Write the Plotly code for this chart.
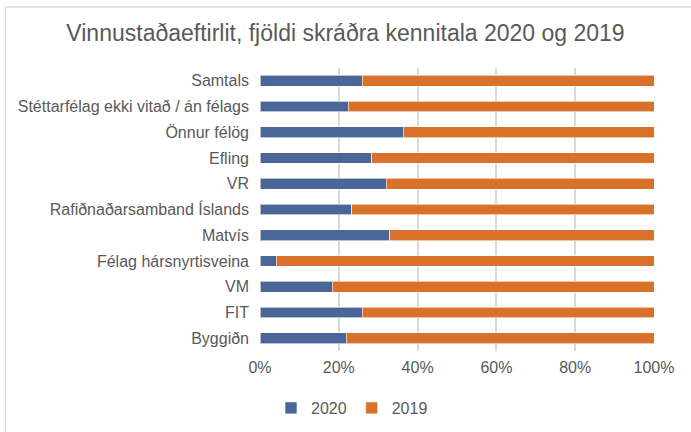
import plotly.graph_objects as go

categories = ["Samtals", "Stéttarfélag ekki vitað / án félags", "Önnur félög", "Efling", "VR",
              "Rafiðnaðarsamband Íslands", "Matvís", "Félag hársnyrtisveina", "VM", "FIT", "Byggiðn"]
share_2020 = [25.9, 22.4, 36.4, 28.4, 32.0, 23.3, 32.9, 4.1, 18.3, 25.9, 21.9]
share_2019 = [100 - v for v in share_2020]
x_ticks = [0, 20, 40, 60, 80, 100]
x_tick_labels = ["0%", "20%", "40%", "60%", "80%", "100%"]

blue = "#4a6699"
orange = "#d8722a"

fig = go.Figure()
fig.add_trace(go.Bar(y=categories, x=share_2020, name="2020", orientation="h",
                     marker=dict(color=blue, line=dict(color="rgba(255,255,255,0.6)", width=1))))
fig.add_trace(go.Bar(y=categories, x=share_2019, name="2019", orientation="h",
                     marker=dict(color=orange, line=dict(color="rgba(255,255,255,0.6)", width=1))))

L, R, T, B = 260, 37, 68, 81
W, H = 691, 432
pw, ph = W - L - R, H - T - B

def px(x):
    return (x - L) / pw

def py(y):
    return (H - B - y) / ph

fig.update_layout(
    width=W, height=H,
    barmode="stack",
    bargap=0.58,
    margin=dict(l=L, r=R, t=T, b=B),
    paper_bgcolor="white",
    plot_bgcolor="white",
    font=dict(family="Liberation Sans, Arial, sans-serif", color="#595959"),
    title=dict(text="Vinnustaðaeftirlit, fjöldi skráðra kennitala 2020 og 2019",
               x=0.5, xref="container", xanchor="center",
               y=1 - 33 / H, yref="container", yanchor="middle",
               font=dict(size=23, color="#595959")),
    xaxis=dict(range=[0, 100], tickvals=x_ticks, ticktext=x_tick_labels,
               showgrid=True, gridcolor="#d9d9d9", gridwidth=1.5,
               zeroline=False, showline=False, ticks="",
               ticklabelstandoff=5,
               tickfont=dict(size=16, color="#595959")),
    yaxis=dict(categoryorder="array", categoryarray=categories[::-1],
               showgrid=False, zeroline=False, showline=False, ticks="",
               ticklabelstandoff=10, tickfont=dict(size=16, color="#595959")),
    legend=dict(orientation="h", x=352 / W, xref="container", xanchor="center",
                y=1 - 408 / H, yref="container", yanchor="middle",
                font=dict(size=16, color="#595959"), traceorder="normal",
                itemwidth=30),
    showlegend=True,
    shapes=[
        dict(type="line", xref="paper", yref="paper", x0=px(5), x1=px(W), y0=py(7), y1=py(7),
             line=dict(color="#d9d9d9", width=1.5)),
        dict(type="line", xref="paper", yref="paper", x0=px(5.5), x1=px(5.5), y0=py(7), y1=py(H),
             line=dict(color="#d9d9d9", width=1.5)),
    ],
)

fig.write_html("out.html", config={"displayModeBar": False},
               post_script="document.body.style.margin='0';")
